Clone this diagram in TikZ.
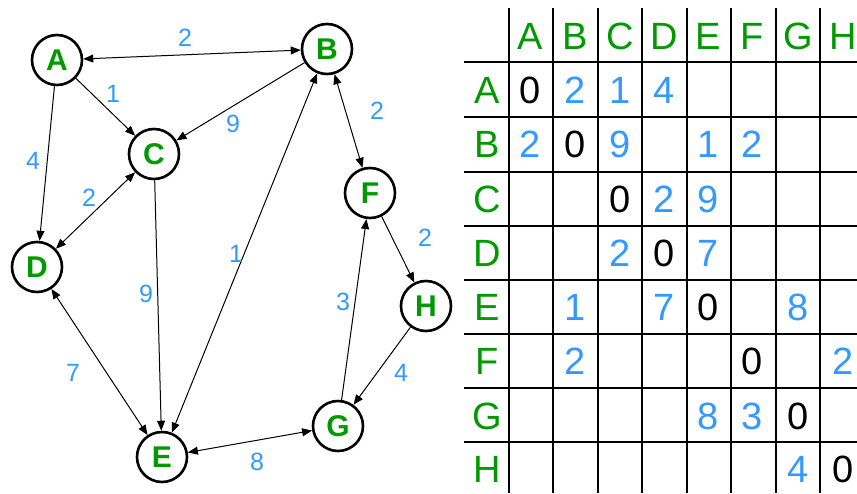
\documentclass[tikz,border=0pt]{standalone}
\usepackage{fontspec}
\setmainfont{Liberation Sans}
\usetikzlibrary{arrows.meta}
\definecolor{lettergreen}{RGB}{0,153,0}
\definecolor{weightblue}{RGB}{51,153,255}

\begin{document}
\begin{tikzpicture}[x=1pt,y=-1pt,
    vertex/.style={circle,draw,line width=2.6pt,minimum size=50pt,inner sep=0pt,
        text=lettergreen,font=\fontsize{30}{30}\selectfont\bfseries},
    wt/.style={text=weightblue,inner sep=0pt,font=\fontsize{25}{25}\selectfont},
    oneway/.style={line width=1pt,-{Triangle[length=10pt,width=8pt]}},
    twoway/.style={line width=1pt,{Triangle[length=10pt,width=8pt]}-{Triangle[length=10pt,width=8pt]}},
    hd/.style={text=lettergreen,inner sep=0pt,font=\fontsize{38}{38}\selectfont},
    val/.style={text=weightblue,inner sep=0pt,font=\fontsize{38}{38}\selectfont},
    zero/.style={inner sep=0pt,font=\fontsize{38}{38}\selectfont}]
            \useasboundingbox (0,0) rectangle (857,493);
            % the graph
            \node [vertex] (A) at (57,60) {A};
            \node [vertex] (B) at (327,49) {B};
            \node [vertex] (C) at (154,154) {C};
            \node [vertex] (D) at (37,267) {D};
            \node [vertex] (E) at (162,457) {E};
            \node [vertex] (F) at (370,193) {F};
            \node [vertex] (G) at (338,426) {G};
            \node [vertex] (H) at (426,306) {H};
            \draw [twoway] (A) -- (B);
            \draw [oneway] (A) -- (C);
            \draw [oneway] (A) -- (D);
            \draw [oneway] (B) -- (C);
            \draw [twoway] (C) -- (D);
            \draw [twoway] (B) -- (F);
            \draw [oneway] (C) -- (E);
            \draw [twoway] (E) -- (B);
            \draw [twoway] (D) -- (E);
            \draw [oneway] (F) -- (H);
            \draw [oneway] (G) -- (F);
            \draw [oneway] (H) -- (G);
            \draw [twoway] (E) -- (G);
            \node [wt] (wAB) at (185,38) {2};
            \node [wt] (wAC) at (113,94) {1};
            \node [wt] (wAD) at (33,161) {4};
            \node [wt] (wBC) at (233,124) {9};
            \node [wt] (wCD) at (89,198) {2};
            \node [wt] (wBF) at (377,111) {2};
            \node [wt] (wCE) at (146,294) {9};
            \node [wt] (wBE) at (236,254) {1};
            \node [wt] (wFH) at (425,238) {2};
            \node [wt] (wGF) at (343,302) {3};
            \node [wt] (wHG) at (401,373) {4};
            \node [wt] (wDE) at (73,373) {7};
            \node [wt] (wEG) at (257,462) {8};
            % the table
            \draw [line width=1.5pt] (509,8) -- (509,493);
            \draw [line width=1.5pt] (553,8) -- (553,493);
            \draw [line width=1.5pt] (598,8) -- (598,493);
            \draw [line width=1.5pt] (642,8) -- (642,493);
            \draw [line width=1.5pt] (687,8) -- (687,493);
            \draw [line width=1.5pt] (731,8) -- (731,493);
            \draw [line width=1.5pt] (776,8) -- (776,493);
            \draw [line width=1.5pt] (820,8) -- (820,493);
            \draw [line width=1.5pt] (464,62) -- (857,62);
            \draw [line width=1.5pt] (464,117) -- (857,117);
            \draw [line width=1.5pt] (464,172) -- (857,172);
            \draw [line width=1.5pt] (464,226) -- (857,226);
            \draw [line width=1.5pt] (464,280) -- (857,280);
            \draw [line width=1.5pt] (464,334) -- (857,334);
            \draw [line width=1.5pt] (464,388) -- (857,388);
            \draw [line width=1.5pt] (464,442) -- (857,442);
            \node [hd] (cA) at (530,36) {A};
            \node [hd] (cB) at (575,36) {B};
            \node [hd] (cC) at (620,36) {C};
            \node [hd] (cD) at (664,36) {D};
            \node [hd] (cE) at (708,36) {E};
            \node [hd] (cF) at (752,36) {F};
            \node [hd] (cG) at (798,36) {G};
            \node [hd] (cH) at (843,36) {H};
            \node [hd] (rA) at (487,90) {A};
            \node [hd] (rB) at (487,144) {B};
            \node [hd] (rC) at (487,199) {C};
            \node [hd] (rD) at (487,253) {D};
            \node [hd] (rE) at (487,307) {E};
            \node [hd] (rF) at (487,361) {F};
            \node [hd] (rG) at (487,416) {G};
            \node [hd] (rH) at (487,469) {H};
            % row A
            \node [zero] (AA) at (530,90) {0};
            \node [val] (AB) at (575,90) {2};
            \node [val] (AC) at (620,90) {1};
            \node [val] (AD) at (664,90) {4};
            % row B
            \node [val] (BA) at (530,144) {2};
            \node [zero] (BB) at (575,144) {0};
            \node [val] (BC) at (620,144) {9};
            \node [val] (BE) at (708,144) {1};
            \node [val] (BF) at (752,144) {2};
            % row C
            \node [zero] (CC) at (620,199) {0};
            \node [val] (CD) at (664,199) {2};
            \node [val] (CE) at (708,199) {9};
            % row D
            \node [val] (DC) at (620,253) {2};
            \node [zero] (DD) at (664,253) {0};
            \node [val] (DE) at (708,253) {7};
            % row E
            \node [val] (EB) at (575,307) {1};
            \node [val] (ED) at (664,307) {7};
            \node [zero] (EE) at (708,307) {0};
            \node [val] (EG) at (798,307) {8};
            % row F
            \node [val] (FB) at (575,361) {2};
            \node [zero] (FF) at (752,361) {0};
            \node [val] (FH) at (843,361) {2};
            % row G
            \node [val] (GE) at (708,416) {8};
            \node [val] (GF) at (752,416) {3};
            \node [zero] (GG) at (798,416) {0};
            % row H
            \node [val] (HG) at (798,469) {4};
            \node [zero] (HH) at (843,469) {0};
        \end{tikzpicture}
\end{document}
